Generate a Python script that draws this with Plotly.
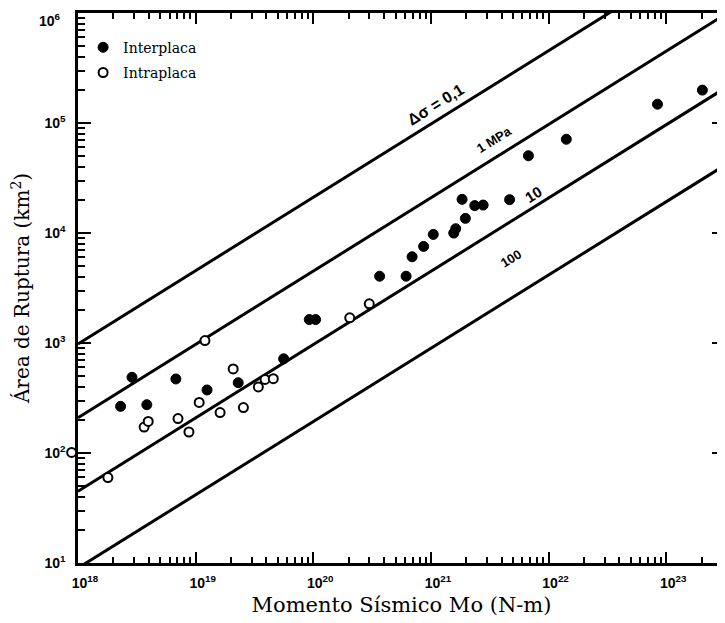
import plotly.graph_objects as go

# ---- data ----
inter_logM = [18.362, 18.585, 18.459, 18.832, 19.097, 19.362, 19.748, 19.966, 20.020,
              20.564, 20.789, 20.840, 20.938, 21.020, 21.194, 21.211, 21.293, 21.265,
              21.373, 21.444, 21.669, 21.829, 22.151, 22.926, 23.308]
inter_logA = [2.424, 2.439, 2.688, 2.673, 2.573, 2.639, 2.856, 3.213, 3.213,
              3.607, 3.607, 3.784, 3.878, 3.987, 3.999, 4.039, 4.133, 4.306,
              4.249, 4.254, 4.303, 4.702, 4.852, 5.171, 5.299]
intra_logM = [18.254, 18.562, 18.597, 18.850, 18.943, 19.030, 19.079, 19.208,
              19.319, 19.406, 19.533, 19.590, 19.660, 20.310, 20.476]
intra_logA = [1.777, 2.236, 2.287, 2.313, 2.191, 2.460, 3.022, 2.368,
              2.764, 2.413, 2.601, 2.669, 2.676, 3.229, 3.356]
# intraplate event plotted just left of the frame in the reference
edge_logM = [17.946]
edge_logA = [2.005]

# stress-drop reference lines: area at Mo = 1e18 and Mo = 1e24
line_names = ["0.1", "1", "10", "100"]
line_M = [1e18, 1e24]
line_A = {"0.1": [980.0, 10 ** 6.99], "1": [209.0, 10 ** 6.32],
          "10": [45.0, 10 ** 5.65], "100": [9.0, 10 ** 4.95]}

line_labels = ["Δσ = 0,1", "1 MPa", "10", "100"]
label_logM = [21.04, 21.54, 21.87, 21.68]
label_logA = [5.17, 4.85, 4.35, 3.77]
label_size = [16, 13, 15, 13]

major_x = [18, 19, 20, 21, 22, 23]
major_y = [1, 2, 3, 4, 5, 6]

inter_M = [10.0 ** v for v in inter_logM]
inter_A = [10.0 ** v for v in inter_logA]
intra_M = [10.0 ** v for v in intra_logM]
intra_A = [10.0 ** v for v in intra_logA]
edge_M = [10.0 ** v for v in edge_logM]
edge_A = [10.0 ** v for v in edge_logA]

fig = go.Figure()

for n in line_names:
    fig.add_trace(go.Scatter(x=line_M, y=line_A[n], mode="lines",
                             line=dict(color="black", width=3),
                             showlegend=False, hoverinfo="skip"))

open_marker = dict(symbol="circle", size=9, color="white",
                   line=dict(color="black", width=2))

fig.add_trace(go.Scatter(x=inter_M, y=inter_A, mode="markers", name="Interplaca",
                         legendgroup="a",
                         marker=dict(symbol="circle", size=10, color="black",
                                     line=dict(color="black", width=1)),
                         cliponaxis=False))
fig.add_trace(go.Scatter(x=intra_M, y=intra_A, mode="markers", name="Intraplaca",
                         legendgroup="b", marker=open_marker, cliponaxis=False))
# same scale as the main x axis but starting slightly left of it
fig.add_trace(go.Scatter(x=edge_M, y=edge_A, mode="markers", xaxis="x3", yaxis="y",
                         marker=open_marker, showlegend=False, cliponaxis=False))

# invisible trace on the overlay axes that carry the long decade ticks
fig.add_trace(go.Scatter(x=[1e20], y=[1e3], xaxis="x2", yaxis="y2", mode="markers",
                         marker=dict(size=1, color="rgba(0,0,0,0)"),
                         showlegend=False, hoverinfo="skip"))

for t, m, a, s in zip(line_labels, label_logM, label_logA, label_size):
    fig.add_annotation(x=m, y=a, xref="x", yref="y", text="<b>%s</b>" % t,
                       showarrow=False, textangle=-32,
                       font=dict(family="Liberation Sans", size=s, color="black"))

tickfont = dict(family="Liberation Sans", size=14, color="black", weight="bold")
serif = "DejaVu Serif"

# top decade label would be cut by the page edge, so it is set just below it
fig.add_annotation(x=0, y=1, xref="paper", yref="paper", xanchor="right", yanchor="top",
                   xshift=-7, yshift=4, showarrow=False,
                   text="10<sup>%d</sup>" % major_y[-1], font=tickfont)

all_x = [k * 10.0 ** d for d in range(18, 24) for k in range(1, 10)]
all_y = [k * 10.0 ** d for d in range(1, 6) for k in range(1, 10)]
xtext = ["10<sup>%d</sup>" % d if k == 1 else "" for d in range(18, 24) for k in range(1, 10)]
ytext = ["10<sup>%d</sup>" % d if k == 1 else "" for d in range(1, 6) for k in range(1, 10)]

xr = [18, 23.5]
yr = [1, 6]

# page body has an 8px margin, so the figure is 8px smaller and margins shifted
L, W = 62, 717
plot_w = W - L
d0 = 8 / plot_w
px_per_dec = plot_w * (1 - d0) / (xr[1] - xr[0])
xr3 = [xr[0] - 8 / px_per_dec, xr[1]]

fig.update_layout(
    width=W, height=615,
    margin=dict(l=L, r=0, t=5, b=60),
    paper_bgcolor="white", plot_bgcolor="rgba(0,0,0,0)",
    showlegend=True,
    legend=dict(x=0.020, y=0.966, xanchor="left", yanchor="top",
                traceorder="grouped", tracegroupgap=4,
                font=dict(family=serif, size=14, color="black"),
                bgcolor="rgba(0,0,0,0)", itemwidth=30),
    xaxis=dict(type="log", range=xr, domain=[d0, 1], showgrid=False, zeroline=False,
               automargin=False,
               showline=True, linecolor="black", linewidth=2.5, mirror="ticks",
               ticks="inside", ticklen=6, tickwidth=1.5, tickcolor="black",
               tickvals=all_x, ticktext=xtext, ticklabeloverflow="allow",
               tickfont=tickfont, ticklabelstandoff=5, ticklabelshift=7,
               title=dict(text="Momento Sísmico Mo (N-m)",
                          font=dict(family=serif, size=21, color="black"),
                          standoff=8)),
    yaxis=dict(type="log", range=yr, showgrid=False, zeroline=False,
               automargin=False,
               showline=True, linecolor="black", linewidth=2.5, mirror="ticks",
               ticks="inside", ticklen=7, tickwidth=1.5, tickcolor="black",
               tickvals=all_y, ticktext=ytext, ticklabeloverflow="allow",
               tickfont=tickfont, ticklabelstandoff=7,
               title=dict(text="Área de Ruptura (km<sup>2</sup>)",
                          font=dict(family=serif, size=20, color="black"),
                          standoff=10)),
    xaxis2=dict(type="log", range=xr, overlaying="x", anchor="y2", side="bottom",
                showgrid=False, zeroline=False, showline=False, mirror="ticks",
                automargin=False,
                ticks="inside", ticklen=11, tickwidth=1.8, tickcolor="black",
                tickvals=[10.0 ** d for d in major_x], showticklabels=False),
    yaxis2=dict(type="log", range=yr, overlaying="y", anchor="x2", side="left",
                showgrid=False, zeroline=False, showline=False, mirror="ticks",
                automargin=False,
                ticks="inside", ticklen=13, tickwidth=1.8, tickcolor="black",
                tickvals=[10.0 ** d for d in major_y], showticklabels=False),
    xaxis3=dict(type="log", range=xr3, domain=[0, 1], anchor="y", visible=False,
                showgrid=False, zeroline=False, automargin=False),
)

fig.write_html("out.html")
